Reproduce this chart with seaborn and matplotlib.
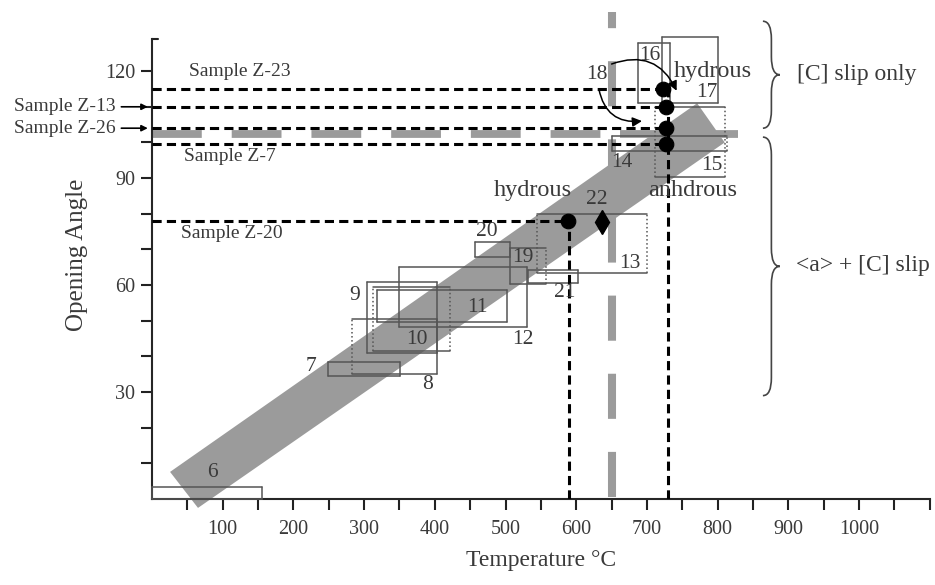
import numpy as np
import pandas as pd
import matplotlib
matplotlib.use("Agg")
import matplotlib.pyplot as plt
from matplotlib.path import Path
from matplotlib.patches import PathPatch, Polygon
import seaborn as sns

# ---- data ----
# sample reference lines (opening angle) and where they meet the 730 C line
sample_names = ["Sample Z-23", "Sample Z-13", "Sample Z-26", "Sample Z-7", "Sample Z-20"]
sample_angle = [115, 110, 104, 99.5, 78]
sample_temp = [723, 727, 727, 727, 588]

# experimental boxes: temperature range and angle range
box_ids = [6, 7, 8, 9, 10, 11, 12, 13, 14, 15, 16, 17, 19, 20, 21]
box_t_lo = [0, 249, 283, 304, 313, 318, 349, 545, 650, 711, 687, 721, 506, 457, 532]
box_t_hi = [156, 351, 403, 403, 421, 502, 530, 700, 813, 810, 733, 800, 557, 506, 603]
box_a_lo = [0, 34.5, 35, 41, 41.5, 49.6, 48.2, 63.5, 97.5, 90.3, 111, 111, 60.3, 68, 60.6]
box_a_hi = [3.4, 38.4, 50.5, 61, 59.5, 58.6, 65, 80, 101.8, 110, 128, 129.5, 70.4, 72, 64.2]
box_left_dot = [False, False, True, False, True, False, False, True, False, True, False, False, False, False, False]
box_right_dot = [False, False, False, False, True, False, False, True, True, True, False, False, True, False, False]

# number labels
label_ids = ["6", "7", "8", "9", "10", "11", "12", "13", "14", "15", "16", "17", "18", "19", "20", "21", "22"]
label_t = [85, 225, 390, 287, 375, 460, 525, 676, 665, 792, 704, 785, 629, 525, 474, 584, 629]
label_a = [7.3, 37.3, 32, 57.2, 44.6, 53.8, 44.6, 66, 94.5, 93.6, 124.5, 114, 119, 67.6, 75, 57.8, 84]

# grey trend band (corners)
band_t = [25.5, 65, 810, 771]
band_a = [7.6, -2.5, 100, 111]

# grey dashed boundaries
grey_v_temp = 650
grey_h_angle = 102.3
grey_h_end = 636
grey_bar_t = [662, 829]

# diamond point (22)
diamond_t = [636]
diamond_a = [77.6]

# ---- style ----
sns.set_style("ticks")
plt.rcParams["font.family"] = ["Liberation Serif", "DejaVu Serif"]
txt = "#3a3a3a"
grey = "#9b9b9b"

fig = plt.figure(figsize=(9.35, 5.85), dpi=100)
ax = fig.add_axes([0.1626, 0.147, 0.8318, 0.835])
ax.set_xlim(0, 1100)
ax.set_ylim(0, 137)

# band
ax.add_patch(Polygon(np.column_stack([band_t, band_a]), closed=True,
                     facecolor=grey, edgecolor="none", zorder=1, clip_on=False))

# grey dashed lines
ax.plot([grey_v_temp, grey_v_temp], [0.5, 136.5], color=grey, lw=5.8,
        ls=(0, (5.6, 4.1)), dash_capstyle="butt", zorder=2, clip_on=False)
ax.plot([0, grey_h_end], [grey_h_angle, grey_h_angle], color=grey, lw=5.6,
        ls=(0, (6.4, 3.85)), dash_capstyle="butt", zorder=2)
ax.plot(grey_bar_t, [grey_h_angle, grey_h_angle], color=grey, lw=5.6,
        solid_capstyle="butt", zorder=2, clip_on=False)

# boxes
for i in range(len(box_ids)):
    t0, t1, a0, a1 = box_t_lo[i], box_t_hi[i], box_a_lo[i], box_a_hi[i]
    kw = dict(color="#555555", lw=1.1, zorder=3, clip_on=False)
    ax.plot([t0, t1], [a1, a1], **kw)
    ax.plot([t0, t1], [a0, a0], **kw)
    ax.plot([t0, t0], [a0, a1], ls=":" if box_left_dot[i] else "-", **kw)
    ax.plot([t1, t1], [a0, a1], ls=":" if box_right_dot[i] else "-", **kw)

# sample dashed lines
dash = (0, (3, 1.7))
for name, a, t in zip(sample_names, sample_angle, sample_temp):
    ax.plot([0, t], [a, a], color="black", lw=2.2, ls=dash, zorder=4)
ax.plot([730, 730], [0, 115], color="black", lw=2.2, ls=dash, zorder=4)
ax.plot([590, 590], [0, 78], color="black", lw=2.2, ls=dash, zorder=4)

dots = pd.DataFrame({"t": sample_temp, "a": sample_angle})
sns.scatterplot(data=dots, x="t", y="a", s=110, color="black", edgecolor="black",
                zorder=5, ax=ax, legend=False)
ax.plot(diamond_t, diamond_a, marker="d", ms=12, color="black", ls="none", zorder=5)

# number labels
for s, t, a in zip(label_ids, label_t, label_a):
    ax.text(t, a, s, fontsize=15.5, color=txt, ha="center", va="center", zorder=6)

ax.text(793, 120, "hydrous", fontsize=17.5, color=txt, ha="center", va="center", zorder=6)
ax.text(539, 86.6, "hydrous", fontsize=17.5, color=txt, ha="center", va="center", zorder=6)
ax.text(764, 86.6, "anhdrous", fontsize=17.5, color=txt, ha="center", va="center", zorder=6)

# sample labels
ax.text(124, 120, "Sample Z-23", fontsize=14, color=txt, ha="center", va="center")
ax.text(110, 96, "Sample Z-7", fontsize=14, color=txt, ha="center", va="center")
ax.text(113, 74.5, "Sample Z-20", fontsize=14, color=txt, ha="center", va="center")
for name, a in [("Sample Z-13", 110), ("Sample Z-26", 104)]:
    ax.annotate(name, xy=(-6, a), xytext=(-52, a), fontsize=14, color=txt,
                ha="right", va="center", annotation_clip=False,
                arrowprops=dict(arrowstyle="-|>", color="black", lw=1.2,
                                mutation_scale=9, shrinkA=2, shrinkB=0))

# curved arrows from 18
ax.annotate("", xy=(742, 114.5), xytext=(650, 122),
            arrowprops=dict(arrowstyle="-|>", color="black", lw=1.1, mutation_scale=14,
                            connectionstyle="arc3,rad=-0.45", shrinkA=0, shrinkB=0))
ax.annotate("", xy=(693, 106), xytext=(632, 115),
            arrowprops=dict(arrowstyle="-|>", color="black", lw=1.1, mutation_scale=14,
                            connectionstyle="arc3,rad=0.45", shrinkA=0, shrinkB=0))

# braces on the right
def brace(x, y_top, y_bot, w, r):
    mid = (y_top + y_bot) / 2
    xm = x + w / 2
    verts = [(x, y_top), (xm, y_top), (xm, y_top - r),
             (xm, mid + r),
             (xm, mid), (x + w, mid),
             (xm, mid), (xm, mid - r),
             (xm, y_bot + r),
             (xm, y_bot), (x, y_bot)]
    codes = [Path.MOVETO, Path.CURVE3, Path.CURVE3, Path.LINETO,
             Path.CURVE3, Path.CURVE3, Path.CURVE3, Path.CURVE3,
             Path.LINETO, Path.CURVE3, Path.CURVE3]
    ax.add_patch(PathPatch(Path(verts, codes), fill=False, edgecolor="#444444",
                           lw=1.2, clip_on=False))

brace(864, 134, 104, 24, 5)
brace(864, 101.5, 29, 24, 5)
ax.text(997, 119, "[C] slip only", fontsize=17, color=txt, ha="center", va="center")
ax.text(1005, 65.5, "<a> + [C] slip", fontsize=17, color=txt, ha="center", va="center")

# axes
xt = np.arange(50, 1101, 50)
ax.set_xticks(xt)
ax.set_xticklabels([str(v) if v % 100 == 0 and v <= 1000 else "" for v in xt])
yt = np.arange(10, 130, 10)
ax.set_yticks(yt)
ax.set_yticklabels([str(v) if v % 30 == 0 else "" for v in yt])
ax.tick_params(axis="both", direction="out", length=8, width=1.5, labelsize=14.5,
               colors="#222222", labelcolor=txt)
ax.tick_params(axis="x", pad=7)
ax.tick_params(axis="y", pad=4)
sns.despine(ax=ax)
ax.spines["left"].set_bounds(0, 129)
ax.spines["left"].set_linewidth(1.5)
ax.spines["bottom"].set_linewidth(1.5)
ax.plot([0, 8], [129, 129], color="#222222", lw=1.5, clip_on=False)

ax.set_xlabel("Temperature °C", fontsize=17, color=txt, labelpad=8)
ax.set_ylabel("Opening Angle", fontsize=18, color=txt, labelpad=12)

fig.savefig("out.png", dpi=100)
